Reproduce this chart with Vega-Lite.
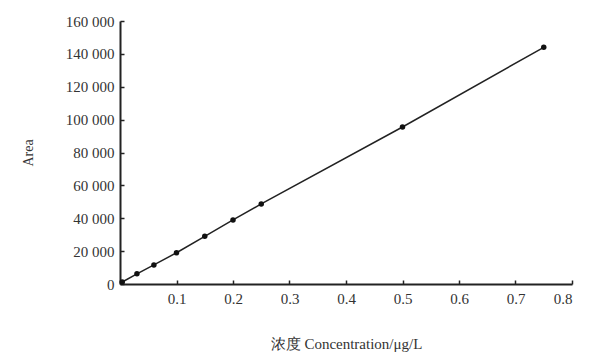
{
  "$schema": "https://vega.github.io/schema/vega-lite/v6.json",
  "autosize": "none",
  "width": 452,
  "height": 263,
  "padding": {"left": 120, "top": 21, "right": 20, "bottom": 73},
  "background": "white",
  "config": {"view": {"stroke": null}, "font": "Liberation Serif"},
  "data": {"values": [
    {"conc": 0.004, "area": 1200},
    {"conc": 0.03, "area": 6200},
    {"conc": 0.06, "area": 11600},
    {"conc": 0.1, "area": 19000},
    {"conc": 0.15, "area": 29000},
    {"conc": 0.2, "area": 39000},
    {"conc": 0.25, "area": 48700},
    {"conc": 0.5, "area": 95500},
    {"conc": 0.75, "area": 144000}
  ]},
  "encoding": {
    "x": {"field": "conc", "type": "quantitative",
      "scale": {"domain": [0, 0.8], "nice": false},
      "axis": {"values": [0, 0.1, 0.2, 0.3, 0.4, 0.5, 0.6, 0.7, 0.8],
        "labelExpr": "datum.value == 0 ? '' : format(datum.value, '.1f')",
        "title": "浓度 Concentration/μg/L",
        "grid": false, "domainColor": "#222", "domainWidth": 2, "tickColor": "#222",
        "tickSize": -4, "tickWidth": 1.5, "labelFontSize": 15, "labelColor": "#333",
        "labelPadding": 11, "titleFontSize": 15, "titleFontWeight": "normal", "titleColor": "#333",
        "titlePadding": 30}},
    "y": {"field": "area", "type": "quantitative",
      "scale": {"domain": [0, 160000], "nice": false},
      "axis": {"values": [0, 20000, 40000, 60000, 80000, 100000, 120000, 140000, 160000],
        "labelExpr": "replace(format(datum.value, ',d'), ',', ' ')",
        "title": "Area",
        "grid": false, "domainColor": "#222", "domainWidth": 2, "tickColor": "#222",
        "tickSize": -4, "tickWidth": 1.5, "labelFontSize": 15, "labelColor": "#333",
        "labelPadding": 10, "titleFontSize": 14, "titleFontWeight": "normal", "titleColor": "#333",
        "titlePadding": 30}}
  },
  "layer": [
    {"mark": {"type": "line", "color": "#222", "strokeWidth": 1.5}},
    {"mark": {"type": "point", "filled": true, "color": "#111", "size": 30, "opacity": 1}}
  ]
}
